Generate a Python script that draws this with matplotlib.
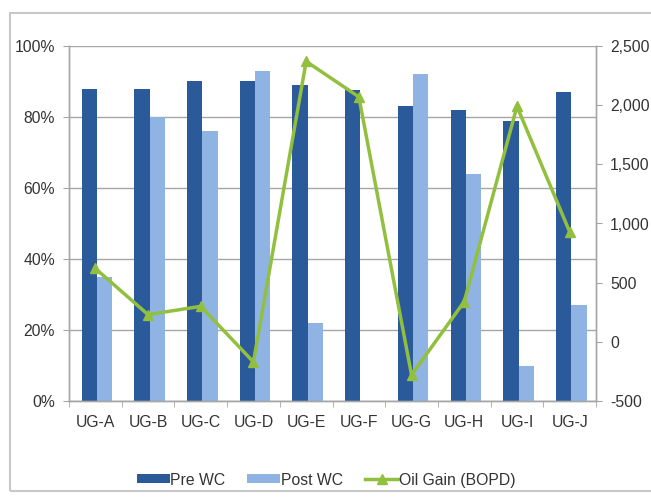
import matplotlib
matplotlib.use('Agg')
import matplotlib.pyplot as plt
import matplotlib.ticker as mticker
from matplotlib.patches import Rectangle
import numpy as np

plt.rcParams['font.family'] = ['Liberation Sans', 'DejaVu Sans']

wells = ['UG-A', 'UG-B', 'UG-C', 'UG-D', 'UG-E', 'UG-F', 'UG-G', 'UG-H', 'UG-I', 'UG-J']
pre_wc = [88, 88, 90, 90, 89, 87.5, 83, 82, 79, 87]
post_wc = [35, 80, 76, 93, 22, 0, 92, 64, 10, 27]
oil_gain = [620, 230, 300, -170, 2370, 2070, -280, 340, 1990, 930]

dark_blue = '#2a5a9a'
light_blue = '#8fb4e3'
green = '#92c03e'
gridcolor = '#a6a6a6'
textcolor = '#333333'
fs = 11.3

fig = plt.figure(figsize=(6.51, 4.98), dpi=100, facecolor='white')

# outer chart border
fig.patches.append(Rectangle((10 / 651, 7 / 498), 1.0, 1 - 20 / 498,
                             transform=fig.transFigure, fill=False,
                             edgecolor='#c8c8c8', linewidth=1.5))

ax = fig.add_axes([69 / 651, 1 - 401 / 498, 527 / 651, 355 / 498])
ax2 = ax.twinx()

x = np.arange(len(wells))
w = 0.29
ax.bar(x - w / 2 + 0.03, pre_wc, w, color=dark_blue, label='Pre WC', zorder=2)
ax.bar(x + w / 2 + 0.03, post_wc, w, color=light_blue, label='Post WC', zorder=2)

ax.set_xlim(-0.5, len(wells) - 0.5)
ax.set_ylim(0, 100)
ax.set_yticks(range(0, 101, 20))
ax.yaxis.set_major_formatter(mticker.FuncFormatter(lambda v, p: '%d%%' % v))
ax.set_xticks(x)
ax.set_xticklabels(wells)
ax.set_xticks(np.arange(-0.5, len(wells), 1), minor=True)
ax.tick_params(axis='x', which='major', length=0, pad=10, labelsize=fs, labelcolor=textcolor)
ax.tick_params(axis='x', which='minor', length=4, color=gridcolor, direction='out')
ax.tick_params(axis='y', length=4, color=gridcolor, labelsize=fs, labelcolor=textcolor, pad=6)
ax.grid(axis='y', color=gridcolor, linewidth=1.0, zorder=0)
ax.set_axisbelow(True)

ax2.plot(x, oil_gain, color=green, linewidth=2.5, marker='^', markersize=7,
         label='Oil Gain (BOPD)', zorder=3)
ax2.set_ylim(-500, 2500)
ax2.set_yticks(range(-500, 2501, 500))
ax2.yaxis.set_major_formatter(mticker.FuncFormatter(lambda v, p: '{:,.0f}'.format(v)))
ax2.tick_params(axis='y', length=4, color=gridcolor, labelsize=fs, labelcolor=textcolor, pad=6)

for a in (ax, ax2):
    a.spines['top'].set_visible(False)
    for s in ('left', 'right', 'bottom'):
        a.spines[s].set_color(gridcolor)
        a.spines[s].set_linewidth(1.0)

handles = []
labels = []
for a in (ax, ax2):
    h, l = a.get_legend_handles_labels()
    handles += h
    labels += l
fig.legend(handles, labels, loc='center', bbox_to_anchor=(326 / 651, 1 - 480 / 498),
           ncol=3, frameon=False, fontsize=fs, handlelength=2.1, handleheight=0.5,
           handletextpad=0.05, columnspacing=1.4, labelcolor=textcolor)

fig.savefig('out.png', dpi=100, facecolor='white')
